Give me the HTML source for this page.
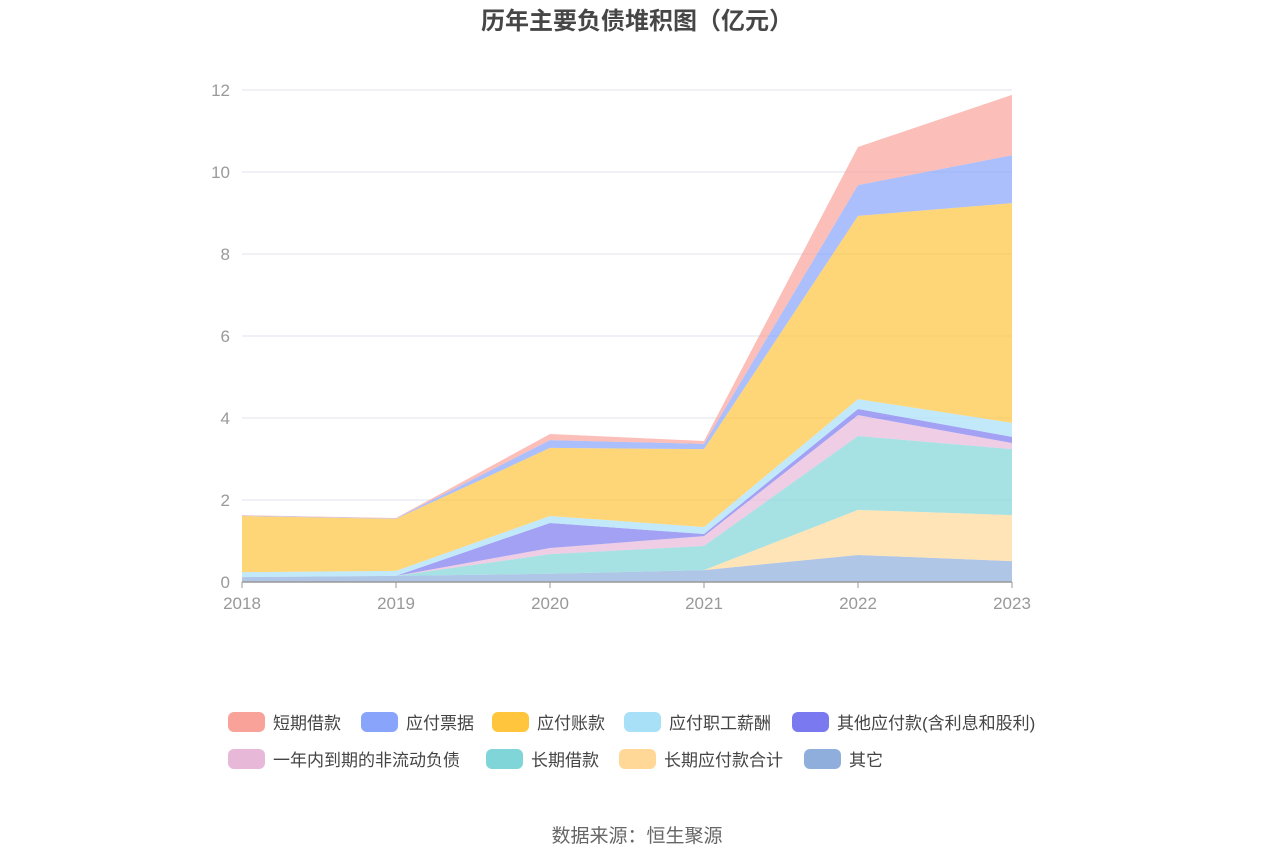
<!DOCTYPE html>
<html><head><meta charset="utf-8"><style>
body{margin:0;background:#fff;font-family:"Liberation Sans","Noto Sans CJK SC",sans-serif}
</style></head><body>
<svg id="c" width="1275" height="862" xmlns="http://www.w3.org/2000/svg">
<text x="637" y="29" text-anchor="middle" font-size="24" font-weight="bold" fill="#464646">历年主要负债堆积图（亿元）</text>
<g id="grid"></g><g id="areas"></g><g id="axis"></g><g id="legend"></g>
<text x="637" y="842" text-anchor="middle" font-size="19" fill="#666">数据来源：恒生聚源</text>
</svg>
<script>
const years=["2018","2019","2020","2021","2022","2023"];
const yTicks=[0,2,4,6,8,10,12];
const seriesNames=["其它","长期应付款合计","长期借款","一年内到期的非流动负债","其他应付款(含利息和股利)","应付职工薪酬","应付账款","应付票据","短期借款"];
const s_other=[0.12,0.15,0.2,0.29,0.66,0.51];
const s_ltPayable=[0,0,0,0,1.1,1.12];
const s_ltLoan=[0,0,0.48,0.59,1.8,1.61];
const s_current=[0,0,0.15,0.24,0.51,0.15];
const s_otherPay=[0,0,0.61,0.05,0.15,0.15];
const s_salary=[0.12,0.12,0.17,0.17,0.24,0.34];
const s_accounts=[1.37,1.27,1.66,1.9,4.47,5.36];
const s_notes=[0.01,0.01,0.19,0.13,0.75,1.17];
const s_short=[0.01,0.01,0.15,0.07,0.93,1.47];
const seriesData=[s_other,s_ltPayable,s_ltLoan,s_current,s_otherPay,s_salary,s_accounts,s_notes,s_short];
const fillColors=["#8faedc","#ffd898","#80d5d8","#e8b8d8","#7a79f0","#a8e0f8","#ffc53d","#88a4fb","#f9a29a"];
const legendNames=["短期借款","应付票据","应付账款","应付职工薪酬","其他应付款(含利息和股利)","一年内到期的非流动负债","长期借款","长期应付款合计","其它"];
const legendColors=["#f9a29a","#88a4fb","#ffc53d","#a8e0f8","#7a79f0","#e8b8d8","#80d5d8","#ffd898","#8faedc"];
const NS="http://www.w3.org/2000/svg";
const x0=242,x1=1012,y0=582,yTop=90,yMax=12;
const X=i=>x0+(x1-x0)*i/(years.length-1);
const Y=v=>y0-(y0-yTop)*v/yMax;
function mk(t,a,p){const e=document.createElementNS(NS,t);for(const k in a)e.setAttribute(k,a[k]);p.appendChild(e);return e;}
const grid=document.getElementById('grid'),axis=document.getElementById('axis'),areas=document.getElementById('areas'),leg=document.getElementById('legend');
yTicks.forEach(t=>{
 if(t>0){const l=mk('line',{x1:x0,x2:x1,y1:Y(t),y2:Y(t),stroke:'#e0e3ee'},grid);
 
 }
 const tx=mk('text',{x:x0-12,y:Y(t)+6,'text-anchor':'end','font-size':17,fill:'#999'},axis);tx.textContent=t;
 
 
});
let base=years.map(()=>0);
seriesData.forEach((d,si)=>{
 const top=base.map((b,i)=>b+d[i]);
 let pts=top.map((v,i)=>X(i)+','+Y(v));
 for(let i=years.length-1;i>=0;i--)pts.push(X(i)+','+Y(base[i]));
 const p=mk('polygon',{points:pts.join(' '),fill:fillColors[si],'fill-opacity':0.7},areas);
 
 
 base=top;
});
const ax=mk('line',{x1:x0,x2:x1,y1:y0,y2:y0,stroke:'#999','stroke-width':1.5},axis);


years.forEach((y,i)=>{
 mk('line',{x1:X(i),x2:X(i),y1:y0,y2:y0+6,stroke:'#999'},axis);
 const t=mk('text',{x:X(i),y:y0+27,'text-anchor':'middle','font-size':17,fill:'#999'},axis);t.textContent=y;
 
 
});
const legPos=[[228,722],[361,722],[492,722],[624,722],[792,722],[228,759],[486,759],[619,759],[804,759]];
legendNames.forEach((n,i)=>{
 const g=mk('g',{},leg);
 
 
 const [lx,ly]=legPos[i];
 mk('rect',{x:lx,y:ly-10,width:37,height:20,rx:6,fill:legendColors[i]},g);
 const t=mk('text',{x:lx+45,y:ly+7,'font-size':17,fill:'#444'},g);t.textContent=n;
});
</script>
</body></html>
